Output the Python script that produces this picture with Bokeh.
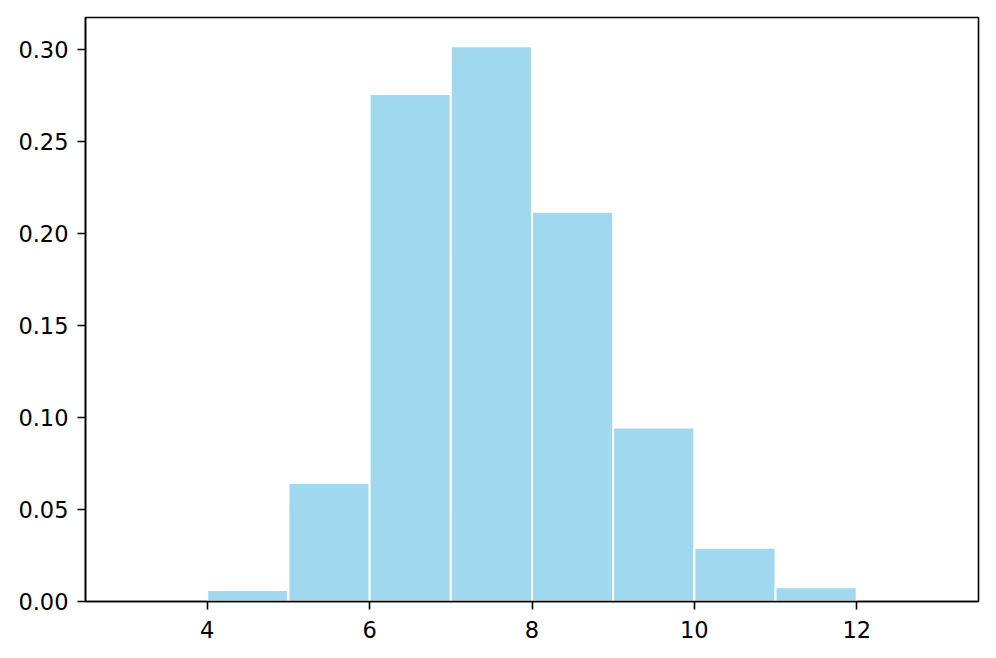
from bokeh.plotting import figure
from bokeh.models import FixedTicker, Range1d
from bokeh.embed import file_html
from bokeh.resources import INLINE

# Histogram data (density per unit-width bin)
bin_left = [4, 5, 6, 7, 8, 9, 10, 11]
bin_right = [5, 6, 7, 8, 9, 10, 11, 12]
density = [0.0062, 0.0645, 0.2760, 0.3020, 0.2120, 0.0946, 0.0292, 0.0078]

x_ticks = [4, 6, 8, 10, 12]
x_tick_labels = ["4", "6", "8", "10", "12"]
y_ticks = [0.0, 0.05, 0.10, 0.15, 0.20, 0.25, 0.30]
y_tick_labels = ["0.00", "0.05", "0.10", "0.15", "0.20", "0.25", "0.30"]

p = figure(width=988, height=648, output_backend="svg", toolbar_location=None,
           x_range=Range1d(2.5, 13.5), y_range=Range1d(0, 0.3176),
           min_border_left=85, min_border_right=10, min_border_top=17, min_border_bottom=47)

p.quad(left=bin_left, right=bin_right, bottom=0, top=density,
       fill_color="skyblue", fill_alpha=0.8, line_color="white", line_width=2)

p.xgrid.visible = False
p.ygrid.visible = False
p.outline_line_color = "black"
p.outline_line_width = 1.6
p.background_fill_color = "white"
p.border_fill_color = "white"

p.xaxis.ticker = FixedTicker(ticks=x_ticks)
p.xaxis.major_label_overrides = {t: l for t, l in zip(x_ticks, x_tick_labels)}
p.yaxis.ticker = FixedTicker(ticks=y_ticks)
p.yaxis.major_label_overrides = {t: l for t, l in zip(y_ticks, y_tick_labels)}

for ax in (p.xaxis, p.yaxis):
    ax.axis_line_color = "black"
    ax.axis_line_width = 1.6
    ax.major_tick_line_color = "black"
    ax.major_tick_line_width = 1.6
    ax.major_tick_out = 8
    ax.major_tick_in = 0
    ax.minor_tick_line_color = None
    ax.major_label_text_font = "DejaVu Sans"
    ax.major_label_text_font_size = "22.5px"
    ax.major_label_text_color = "black"

p.yaxis.major_label_standoff = 9
p.xaxis.major_label_standoff = 11

open("out.html", "w").write(file_html(p, INLINE))
